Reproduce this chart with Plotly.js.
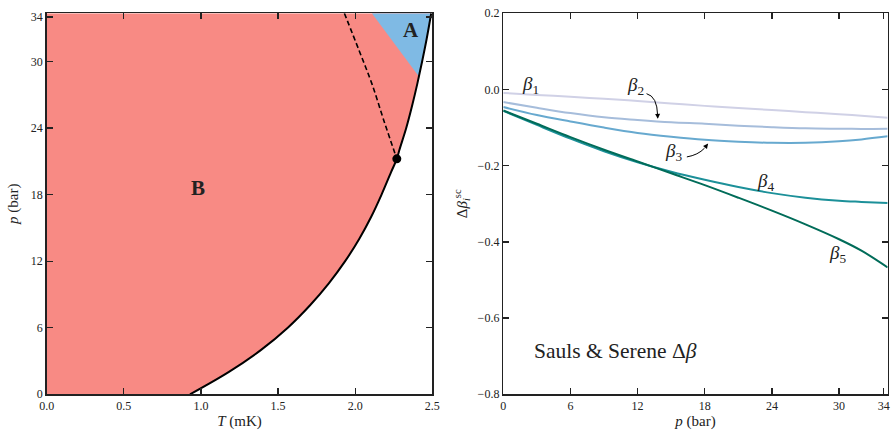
<!DOCTYPE html>
<html><head><meta charset="utf-8">
<script src="https://cdn.plot.ly/plotly-3.0.1.min.js"></script>
<style>html,body{margin:0;padding:0;background:#fff}</style>
</head><body><div id="plot" style="width:893px;height:433px"></div>
<script>
// ---- Left panel: phase diagram ----
const pMax = 34.34;
const tcP = [0, 2, 4, 6, 8, 10, 12, 14, 16, 18, 20, 21.22, 22, 24, 26, 28, 28.65, 30, 32, 34.34];
const tcT = [0.929, 1.179, 1.390, 1.563, 1.706, 1.829, 1.935, 2.026, 2.104, 2.171, 2.232, 2.270, 2.286, 2.331, 2.369, 2.403, 2.413, 2.434, 2.463, 2.493];
const dashP = [34.34, 31, 28, 24.5, 21.22];
const dashT = [1.93, 2.025, 2.108, 2.19, 2.270];
const pcpT = [2.270], pcpP = [21.22];
const aCornerT = [2.108, 2.413];
const aCornerP = [34.34, 28.65];
const tTicks = [0, 0.5, 1.0, 1.5, 2.0, 2.5];
const pTicks = [0, 6, 12, 18, 24, 30, 34];

// ---- Right panel: strong-coupling corrections ----
const pBar = [0, 3, 6, 9, 12, 15, 18, 21, 24, 27, 30, 32, 34.34];
const beta1 = [-0.009, -0.0145, -0.019, -0.0245, -0.030, -0.0365, -0.043, -0.0485, -0.054, -0.0595, -0.065, -0.069, -0.074];
const beta2 = [-0.033, -0.048, -0.062, -0.073, -0.080, -0.086, -0.090, -0.095, -0.099, -0.102, -0.103, -0.1035, -0.103];
const beta3 = [-0.046, -0.067, -0.084, -0.100, -0.114, -0.124, -0.132, -0.137, -0.140, -0.140, -0.136, -0.131, -0.123];
const beta4 = [-0.056, -0.093, -0.129, -0.162, -0.191, -0.216, -0.237, -0.256, -0.272, -0.284, -0.292, -0.295, -0.298];
const beta5 = [-0.055, -0.090, -0.125, -0.158, -0.189, -0.220, -0.251, -0.284, -0.318, -0.354, -0.393, -0.423, -0.467];
const betaColors = ['#d0d1e6', '#a6bddb', '#67a9cf', '#1c9099', '#016c59'];
const betaNames = ['β1','β2','β3','β4','β5'];

const FONT = 'Liberation Serif';

// polygons built from the data arrays
const bX = [0].concat(tcT, [0]);
const bY = [0].concat(tcP, [pMax]);
const aX = aCornerT.slice(), aY = aCornerP.slice();
tcP.forEach((p, i) => { if (p > aCornerP[1]) { aX.push(tcT[i]); aY.push(p); } });

const traces = [
  {x: bX, y: bY, xaxis: 'x', yaxis: 'y', mode: 'lines', fill: 'toself', fillcolor: '#f88a84', line: {width: 0}, hoverinfo: 'skip'},
  {x: aX, y: aY, xaxis: 'x', yaxis: 'y', mode: 'lines', fill: 'toself', fillcolor: '#7fbae4', line: {width: 0}, hoverinfo: 'skip'},
  {x: tcT, y: tcP, xaxis: 'x', yaxis: 'y', mode: 'lines', line: {color: '#000', width: 2, shape: 'spline'}},
  {x: dashT, y: dashP, xaxis: 'x', yaxis: 'y', mode: 'lines', line: {color: '#000', width: 1.6, dash: '5px,3px', shape: 'spline'}},
  {x: pcpT, y: pcpP, xaxis: 'x', yaxis: 'y', mode: 'markers', marker: {color: '#000', size: 9}}
];
[beta1, beta2, beta3, beta4, beta5].forEach((b, i) => {
  traces.push({x: pBar, y: b, xaxis: 'x2', yaxis: 'y2', mode: 'lines', name: betaNames[i],
    line: {color: betaColors[i], width: 2, shape: 'spline'}});
});

const axBase = {
  showline: true, linecolor: '#222', linewidth: 1.5, mirror: 'ticks',
  ticks: 'inside', ticklen: 6, tickwidth: 1.3, tickcolor: '#222',
  showgrid: false, zeroline: false,
  tickfont: {family: FONT, size: 12, color: '#222'}
};

const layout = {
  width: 893, height: 433,
  margin: {l: 0, r: 0, t: 0, b: 0},
  paper_bgcolor: '#fff', plot_bgcolor: '#fff',
  showlegend: false,
  font: {family: FONT, color: '#222'},
  xaxis: Object.assign({}, axBase, {domain: [0.0523, 0.4841], range: [0, 2.5], tickvals: tTicks, tickformat: '.1f',
    title: {text: '<i>T</i> (mK)', font: {family: FONT, size: 15}, standoff: 3}}),
  yaxis: Object.assign({}, axBase, {domain: [0.0894, 0.9693], range: [0, pMax], tickvals: pTicks,
    title: {text: '<i>p</i> (bar)', font: {family: FONT, size: 15}, standoff: 8}}),
  xaxis2: Object.assign({}, axBase, {anchor: 'y2', domain: [0.5636, 0.9940], range: [0, pMax], tickvals: pTicks,
    title: {text: '<i>p</i> (bar)', font: {family: FONT, size: 15}, standoff: 3}}),
  yaxis2: Object.assign({}, axBase, {anchor: 'x2', domain: [0.0894, 0.9693], range: [-0.8, 0.2], dtick: 0.2, tickformat: '.1f',
    title: {text: 'Δ<i>β</i><sub><i>i</i></sub><sup>sc</sup>', font: {family: FONT, size: 15}, standoff: 6}}),
  annotations: [
    {xref: 'x', yref: 'y', x: 0.98, y: 18.6, text: '<b>B</b>', showarrow: false, font: {family: FONT, size: 21, color: '#222'}},
    {xref: 'x', yref: 'y', x: 2.365, y: 32.8, text: '<b>A</b>', showarrow: false, font: {family: FONT, size: 21, color: '#222'}},
    {xref: 'x2', yref: 'y2', x: 2.4, y: 0.012, text: '<i>β</i><sub>1</sub>', showarrow: false, font: {family: FONT, size: 19, color: '#222'}},
    {xref: 'x2', yref: 'y2', x: 11.8, y: 0.008, text: '<i>β</i><sub>2</sub>', showarrow: false, font: {family: FONT, size: 19, color: '#222'}},
    {xref: 'x2', yref: 'y2', x: 15.2, y: -0.163, text: '<i>β</i><sub>3</sub>', showarrow: false, font: {family: FONT, size: 19, color: '#222'}},
    {xref: 'x2', yref: 'y2', x: 23.4, y: -0.242, text: '<i>β</i><sub>4</sub>', showarrow: false, font: {family: FONT, size: 19, color: '#222'}},
    {xref: 'x2', yref: 'y2', x: 29.9, y: -0.432, text: '<i>β</i><sub>5</sub>', showarrow: false, font: {family: FONT, size: 19, color: '#222'}},
    {xref: 'x2', yref: 'y2', x: 2.6, y: -0.687, xanchor: 'left', text: 'Sauls &amp; Serene Δ<i>β</i>', showarrow: false, font: {family: FONT, size: 21.5, color: '#222'}},
    {xref: 'x2', yref: 'y2', axref: 'x2', ayref: 'y2', x: 13.8, y: -0.077, ax: 13.79, ay: -0.065, text: '', showarrow: true, arrowhead: 2, arrowsize: 1, arrowwidth: 1, arrowcolor: '#000'},
    {xref: 'x2', yref: 'y2', axref: 'x2', ayref: 'y2', x: 18.3, y: -0.142, ax: 17.95, ay: -0.155, text: '', showarrow: true, arrowhead: 2, arrowsize: 1, arrowwidth: 1, arrowcolor: '#000'}
  ],
  shapes: [
    {type: 'path', xref: 'x2', yref: 'y2', path: 'M 12.8,-0.011 Q 13.75,-0.018 13.79,-0.068', line: {color: '#000', width: 1}},
    {type: 'path', xref: 'x2', yref: 'y2', path: 'M 16.4,-0.177 Q 17.4,-0.172 17.98,-0.154', line: {color: '#000', width: 1}}
  ]
};

Plotly.newPlot('plot', traces, layout, {staticPlot: true, displayModeBar: false});
</script></body></html>
